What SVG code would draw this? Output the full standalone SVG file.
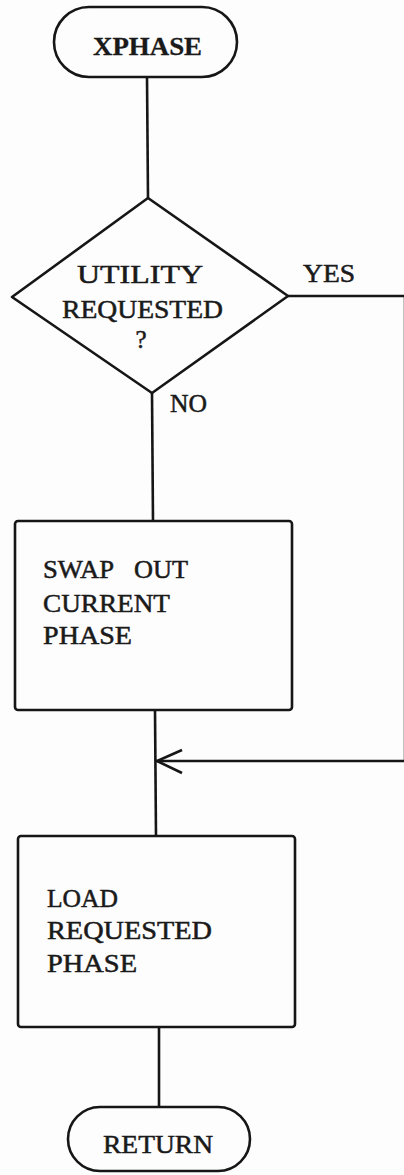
<svg xmlns="http://www.w3.org/2000/svg" width="404" height="1175" viewBox="0 0 404 1175">
<style>
.shape{fill:none;stroke:#161616;stroke-width:2.6;stroke-linejoin:round}
.conn{fill:none;stroke:#161616;stroke-width:2.6;stroke-linecap:butt}
.t{font-family:"Liberation Serif","Times New Roman",serif;font-size:25px;fill:#1a1a1a;stroke:#1a1a1a;stroke-width:0.5}
.tb{font-weight:bold;stroke-width:0.3}
.c{text-anchor:middle}
</style>
<rect width="404" height="1175" fill="#fdfdfd"/>
<g id="connectors">
<line class="conn" x1="147" y1="77" x2="148" y2="198"/>
<line class="conn" x1="152" y1="393" x2="153" y2="521"/>
<line class="conn" x1="288" y1="296" x2="404" y2="296"/>
<line class="conn" x1="404.8" y1="296" x2="404.8" y2="761" stroke-opacity="0.5"/>
<line class="conn" x1="404" y1="761" x2="156" y2="761"/>
<polyline class="conn" points="182,750 157,761 182,773"/>
<line class="conn" x1="155" y1="710" x2="156" y2="837"/>
<line class="conn" x1="159" y1="1027" x2="159" y2="1107"/>
<text class="t" x="303" y="282" textLength="52" lengthAdjust="spacingAndGlyphs">YES</text>
<text class="t" x="170" y="412" textLength="37" lengthAdjust="spacingAndGlyphs">NO</text>
</g>
<g id="xphase">
<rect class="shape" x="54" y="7" width="183" height="70" rx="35" ry="35"/>
<text class="t tb" x="93" y="55" textLength="109" lengthAdjust="spacingAndGlyphs">XPHASE</text>
</g>
<g id="decision">
<polygon class="shape" points="148,198 288,296 152,393 12,297"/>
<text class="t" x="77" y="283" textLength="126" lengthAdjust="spacingAndGlyphs">UTILITY</text>
<text class="t" x="62" y="318" textLength="161" lengthAdjust="spacingAndGlyphs">REQUESTED</text>
<text class="t c" x="141" y="348">?</text>
</g>
<g id="swap">
<rect class="shape" x="15" y="521" width="277" height="189" rx="3"/>
<text class="t" x="43" y="578"><tspan textLength="71" lengthAdjust="spacingAndGlyphs">SWAP</tspan><tspan x="134" textLength="54" lengthAdjust="spacingAndGlyphs">OUT</tspan></text>
<text class="t" x="43" y="612" textLength="127" lengthAdjust="spacingAndGlyphs">CURRENT</text>
<text class="t" x="43" y="644" textLength="89" lengthAdjust="spacingAndGlyphs">PHASE</text>
</g>
<g id="load">
<rect class="shape" x="18" y="836" width="277" height="191" rx="3"/>
<text class="t" x="47" y="907" textLength="71" lengthAdjust="spacingAndGlyphs">LOAD</text>
<text class="t" x="47" y="939" textLength="165" lengthAdjust="spacingAndGlyphs">REQUESTED</text>
<text class="t" x="47" y="972" textLength="90" lengthAdjust="spacingAndGlyphs">PHASE</text>
</g>
<g id="return">
<rect class="shape" x="68" y="1107" width="182" height="64" rx="32" ry="32"/>
<text class="t" x="103" y="1153" textLength="110" lengthAdjust="spacingAndGlyphs">RETURN</text>
</g>
</svg>
